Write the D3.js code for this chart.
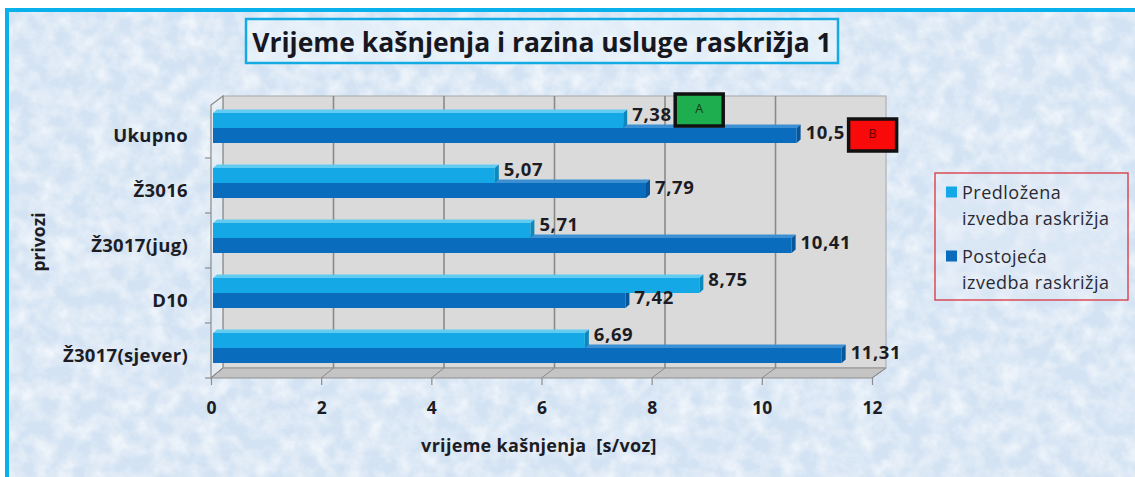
<!DOCTYPE html>
<html>
<head>
<meta charset="utf-8">
<script src="https://cdn.jsdelivr.net/npm/d3@7"></script>
<style>
  html, body { margin: 0; padding: 0; background: #ffffff; }
  svg { display: block; }
  text { font-family: "Open Sans", "Noto Sans", sans-serif; white-space: pre; }
</style>
</head>
<body>
<svg id="chart" width="1135" height="477"></svg>
<script>
// Approaches (privozi) of intersection 1
const categories = ["Ukupno", "Ž3016", "Ž3017(jug)", "D10", "Ž3017(sjever)"];
// Delay per vehicle [s/voz]
const proposedDelay = [7.38, 5.07, 5.71, 8.75, 6.69];   // Predložena izvedba raskrižja
const existingDelay = [10.5, 7.79, 10.41, 7.42, 11.31]; // Postojeća izvedba raskrižja
const seriesLabels = [["Predložena", "izvedba raskrižja"], ["Postojeća", "izvedba raskrižja"]];
// Level of service for the total (Ukupno) row: proposed, existing
const levelOfService = ["A", "B"];
const xTickValues = [0, 2, 4, 6, 8, 10, 12];
const titleText = "Vrijeme kašnjenja i razina usluge raskrižja 1";
const xTitle = "vrijeme kašnjenja  [s/voz]";
const yTitle = "privozi";

const svg = d3.select("#chart");
const fmt = v => String(v).replace(".", ",");

// ---- background with marbled texture and frame ----
const defs = svg.append("defs");
const marble = defs.append("filter").attr("id", "marble")
  .attr("x", 0).attr("y", 0).attr("width", "100%").attr("height", "100%");
marble.append("feTurbulence").attr("type", "fractalNoise")
  .attr("baseFrequency", "0.055").attr("numOctaves", 4).attr("seed", 7);
marble.append("feColorMatrix").attr("type", "matrix")
  .attr("values", "0 0 0 0 1  0 0 0 0 1  0 0 0 0 1  1.3 0 0 0 -0.45");

svg.append("rect").attr("x", 7).attr("y", 10).attr("width", 1200).attr("height", 500)
  .attr("fill", "#d4e3f3");
svg.append("rect").attr("x", 7).attr("y", 10).attr("width", 1200).attr("height", 500)
  .attr("fill", "#fff").attr("filter", "url(#marble)");
svg.append("rect").attr("x", 7).attr("y", 10).attr("width", 1200).attr("height", 500)
  .attr("fill", "none").attr("stroke", "#08b0ec").attr("stroke-width", 4);

// ---- title ----
svg.append("rect").attr("x", 246).attr("y", 19).attr("width", 592).attr("height", 44)
  .attr("fill", "rgba(236,245,252,0.55)").attr("stroke", "#14aae4").attr("stroke-width", 2.5);
svg.append("text").attr("x", 542).attr("y", 42)
  .attr("text-anchor", "middle").attr("dominant-baseline", "central")
  .attr("font-size", 26.5).attr("font-weight", 700).attr("fill", "#17171f")
  .text(titleText);

// ---- scales ----
const wallTop = 96, floorBack = 368, floorFront = 378;
const xFront = d3.scaleLinear().domain([0, 12]).range([211, 872]);
const xBack = d3.scaleLinear().domain([0, 12]).range([223, 886]);
const xBar = d3.scaleLinear().domain([0, 12]).range([213, 880]);
const y = d3.scaleBand().domain(categories).range([103, floorFront]).padding(0);

// ---- 3D frame: back wall, side wall, floor ----
const frame = svg.append("g");
frame.append("rect")
  .attr("x", xBack(0)).attr("y", wallTop)
  .attr("width", xBack(12) - xBack(0)).attr("height", floorBack - wallTop)
  .attr("fill", "#dadada").attr("stroke", "#a6a6a6").attr("stroke-width", 1);
// side wall
frame.append("path")
  .attr("d", `M${xFront(0)},${wallTop + 9} L${xBack(0)},${wallTop} L${xBack(0)},${floorBack} L${xFront(0)},${floorFront} Z`)
  .attr("fill", "rgba(230,236,242,0.6)").attr("stroke", "#8c8c8c").attr("stroke-width", 1.2);
// floor
frame.append("path")
  .attr("d", `M${xFront(0)},${floorFront} L${xFront(12)},${floorFront} L${xBack(12)},${floorBack} L${xBack(0)},${floorBack} Z`)
  .attr("fill", "#c4c4c4").attr("stroke", "#8f8f8f").attr("stroke-width", 1);
// gridlines on back wall and floor
frame.selectAll("line.grid").data(xTickValues.slice(1, -1)).join("line")
  .attr("class", "grid")
  .attr("x1", d => xBack(d)).attr("x2", d => xBack(d))
  .attr("y1", wallTop).attr("y2", floorBack)
  .attr("stroke", "#8a8a8a").attr("stroke-width", 1.6);
frame.selectAll("line.fgrid").data(xTickValues).join("line")
  .attr("class", "fgrid")
  .attr("x1", d => xFront(d)).attr("x2", d => xBack(d))
  .attr("y1", floorFront).attr("y2", floorBack)
  .attr("stroke", "#8a8a8a").attr("stroke-width", 1);
// left category tick marks (between categories)
const boundaries = categories.slice(1).map(c => y(c)).concat([floorFront]);
frame.selectAll("line.ytick").data(boundaries).join("line")
  .attr("class", "ytick")
  .attr("x1", xFront(0) - 6).attr("x2", xFront(0))
  .attr("y1", d => d).attr("y2", d => d)
  .attr("stroke", "#8c8c8c").attr("stroke-width", 1.2);

// ---- x axis ----
const xAxis = d3.axisBottom(xFront).tickValues(xTickValues).tickSize(7).tickPadding(17)
  .tickFormat(d3.format("d"));
const gx = svg.append("g").attr("transform", `translate(0,${floorFront})`).call(xAxis);
gx.select(".domain").remove();
gx.selectAll(".tick line").attr("stroke", "#8c8c8c").attr("stroke-width", 1.2);
gx.selectAll(".tick text").attr("font-size", 17.5).attr("font-weight", 700)
  .attr("fill", "#1c1c24").attr("font-family", "'Open Sans', sans-serif");

// ---- y axis labels ----
const yAxis = d3.axisLeft(y).tickSize(0).tickPadding(xFront(0) - 188);
const gy = svg.append("g").attr("transform", `translate(${xFront(0)},0)`).call(yAxis);
gy.select(".domain").remove();
gy.selectAll(".tick text").attr("font-size", 18.5).attr("font-weight", 700)
  .attr("letter-spacing", 0.3)
  .attr("fill", "#1c1c24").attr("dy", "0.62em").attr("font-family", "'Open Sans', sans-serif");

// ---- axis titles ----
svg.append("text").attr("x", 539).attr("y", 445)
  .attr("text-anchor", "middle").attr("font-size", 18).attr("font-weight", 700)
  .attr("letter-spacing", 0.3)
  .attr("fill", "#1c1c24").attr("dominant-baseline", "central").text(xTitle);
svg.append("text").attr("transform", "translate(38,242) rotate(-90)")
  .attr("text-anchor", "middle").attr("font-size", 17.5).attr("font-weight", 700)
  .attr("fill", "#1c1c24").attr("dominant-baseline", "central").text(yTitle);

// ---- 3D bars ----
const series = [
  { key: "existing", values: existingDelay, offset: 25, front: "#0a6cbd", top: "#3c8fd2", side: "#07559a" },
  { key: "proposed", values: proposedDelay, offset: 10, front: "#14a8e6", top: "#62cbf2", side: "#0d88bd" }
];
const barH = 15, depthX = 4, depthY = 3.5;

const bars = svg.append("g");
series.forEach(s => {
  const rows = categories.map((c, i) => ({ c, v: s.values[i] }));
  const g = bars.append("g").attr("class", s.key);
  const item = g.selectAll("g").data(rows).join("g");
  // top face
  item.append("path")
    .attr("d", d => {
      const y0 = y(d.c) + s.offset, x0 = xBar(0), x1 = xBar(d.v);
      return `M${x0},${y0} L${x1},${y0} L${x1 + depthX},${y0 - depthY} L${x0 + depthX},${y0 - depthY} Z`;
    })
    .attr("fill", s.top);
  // end face
  item.append("path")
    .attr("d", d => {
      const y0 = y(d.c) + s.offset, x1 = xBar(d.v);
      return `M${x1},${y0} L${x1 + depthX},${y0 - depthY} L${x1 + depthX},${y0 + barH - depthY} L${x1},${y0 + barH} Z`;
    })
    .attr("fill", s.side);
  // front face
  item.append("rect")
    .attr("x", xBar(0)).attr("y", d => y(d.c) + s.offset)
    .attr("width", d => xBar(d.v) - xBar(0)).attr("height", barH)
    .attr("fill", s.front);
});

// ---- value labels ----
const labels = svg.append("g");
series.forEach(s => {
  labels.selectAll(null).data(categories.map((c, i) => ({ c, v: s.values[i] }))).join("text")
    .attr("x", d => xBar(d.v) + depthX + 5)
    .attr("y", d => y(d.c) + s.offset + (s.key === "proposed" ? 0 : 3))
    .attr("dominant-baseline", "central")
    .attr("font-size", 18.5).attr("font-weight", 700).attr("letter-spacing", 0.6)
    .attr("fill", "#1c1c24")
    .text(d => fmt(d.v));
});

// ---- level of service boxes for the total row ----
const losColors = [{ fill: "#1fae4f", text: "#103a18" }, { fill: "#f80a0a", text: "#6a0000" }];
const total = categories[0];
const losData = [
  { level: levelOfService[0], v: proposedDelay[0], yc: y(total) + 10 - 3 },
  { level: levelOfService[1], v: existingDelay[0], yc: y(total) + 25 + 7 }
];
const los = svg.append("g").selectAll("g").data(losData).join("g");
los.append("rect")
  .attr("x", d => xBar(d.v) + 52).attr("y", d => d.yc - 16)
  .attr("width", 48).attr("height", 32)
  .attr("fill", (d, i) => losColors[i].fill)
  .attr("stroke", "#111").attr("stroke-width", 3.5);
los.append("text")
  .attr("x", d => xBar(d.v) + 76).attr("y", d => d.yc - 2)
  .attr("text-anchor", "middle").attr("dominant-baseline", "central")
  .attr("font-size", 12.5).attr("fill", (d, i) => losColors[i].text)
  .text(d => d.level);

// ---- legend ----
const legend = svg.append("g");
legend.append("rect").attr("x", 935).attr("y", 173).attr("width", 193).attr("height", 127)
  .attr("fill", "rgba(225,236,247,0.35)").attr("stroke", "#d9343f").attr("stroke-width", 1.3);
const legendColors = ["#14a8e6", "#0a6cbd"];
seriesLabels.forEach((lines, i) => {
  const yc = 192 + i * 64;
  legend.append("rect").attr("x", 946).attr("y", yc - 5.5).attr("width", 11).attr("height", 11)
    .attr("fill", legendColors[i]);
  lines.forEach((ln, j) => {
    legend.append("text").attr("x", 962).attr("y", yc + j * 26)
      .attr("dominant-baseline", "central").attr("font-size", 18).attr("letter-spacing", 0.5)
      .attr("fill", "#2a2a32")
      .text(ln);
  });
});
</script>
</body>
</html>
